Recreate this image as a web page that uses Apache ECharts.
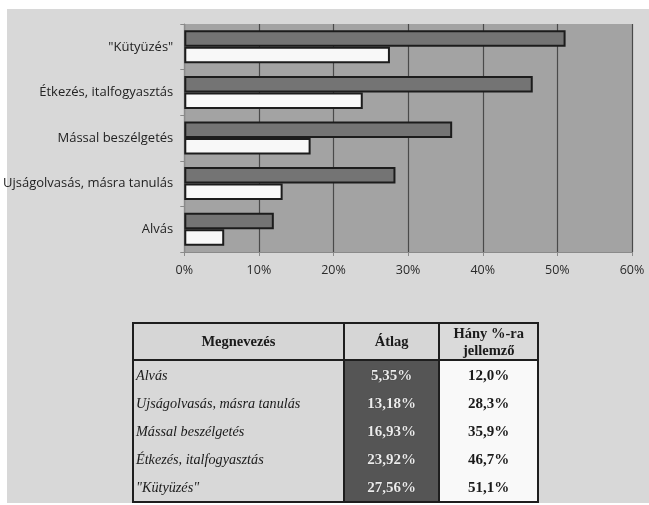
<!DOCTYPE html>
<html>
<head>
<meta charset="utf-8">
<script src="https://cdn.jsdelivr.net/npm/echarts@6/dist/echarts.min.js"></script>
<style>
  html, body { margin: 0; padding: 0; background: #ffffff; }
  #panel { position: absolute; left: 7px; top: 9px; width: 642px; height: 494px; background: #d8d8d8; }
  #chart { position: absolute; left: 0; top: 0; width: 649px; height: 505px; }
  #tbl {
    position: absolute; left: 132px; top: 322px; width: 407px; height: 178px;
    border-collapse: collapse; border: 2px solid #1e1e1e;
    font-family: "Liberation Serif", "DejaVu Serif", serif; font-size: 14px; color: #1a1a1a;
  }
  #tbl th { font-weight: bold; font-size: 14.5px; line-height: 17px; height: 35px; padding: 0; background: #d6d6d6;
    border: 2px solid #1e1e1e; }
  #tbl td { padding: 0; height: 28px; }
  #tbl td.name { font-style: italic; text-align: left; padding-left: 2px; background: #d8d8d8; font-size: 14.2px; }
  #tbl td.avg { background: #555555; color: #ececec; font-weight: bold; text-align: center; font-size: 15px;
    border-left: 2px solid #1e1e1e; border-right: 2px solid #1e1e1e; text-shadow: 0 0 1px #222; }
  #tbl td.pct { background: #f9f9f9; font-weight: bold; text-align: center; font-size: 15px; }
</style>
</head>
<body>
<div id="panel"></div>
<div id="chart"></div>
<table id="tbl"></table>
<script>
// categories, bottom to top as the value axis reads them
var categories = ['Alvás', 'Ujságolvasás, másra tanulás', 'Mással beszélgetés', 'Étkezés, italfogyasztás', '"Kütyüzés"'];
// share of people for whom the activity is typical (dark bars)
var jellemzo = [12.0, 28.3, 35.9, 46.7, 51.1];
// average share (white bars)
var atlag = [5.35, 13.18, 16.93, 23.92, 27.56];
var atlagText = ['5,35%', '13,18%', '16,93%', '23,92%', '27,56%'];
var jellemzoText = ['12,0%', '28,3%', '35,9%', '46,7%', '51,1%'];
var headers = ['Megnevezés', 'Átlag', 'Hány %-ra<br>jellemző'];

var chart = echarts.init(document.getElementById('chart'));

var barBorder = { borderColor: '#1c1c1c', borderWidth: 2 };

chart.setOption({
  animation: false,
  backgroundColor: 'transparent',
  grid: {
    left: 183, right: 17, top: 24, bottom: 253,
    show: true, backgroundColor: '#a3a3a3', borderWidth: 0
  },
  xAxis: {
    type: 'value', min: 0, max: 60, interval: 10,
    axisLine: { show: true, lineStyle: { color: '#8a8a8a', width: 1 } },
    axisTick: { show: true, length: 4, lineStyle: { color: '#8a8a8a' } },
    axisLabel: {
      formatter: '{value}%', margin: 12, color: '#2a2a2a',
      fontFamily: 'Open Sans', fontSize: 12.5
    },
    splitLine: { show: true, lineStyle: { color: '#4a4a4a', width: 1.2 } }
  },
  yAxis: {
    type: 'category', data: categories,
    axisLine: { show: true, lineStyle: { color: '#8a8a8a' } },
    axisTick: { show: true, length: 4, lineStyle: { color: '#8a8a8a' } },
    axisLabel: { margin: 11, color: '#222', fontFamily: 'Open Sans', fontSize: 13 }
  },
  series: [
    {
      name: 'Hány %-ra jellemző', type: 'bar', data: jellemzo,
      barWidth: 16.5, barGap: '0%',
      itemStyle: Object.assign({ color: '#747474' }, barBorder)
    },
    {
      name: 'Átlag', type: 'bar', data: atlag,
      barWidth: 16.5, barGap: '0%',
      itemStyle: Object.assign({ color: '#f8f8f8' }, barBorder)
    }
  ]
});

// table below the chart, built from the same arrays (top row first = Alvás)
var tbl = document.getElementById('tbl');
var html = '<colgroup><col style="width:212px"><col style="width:96px"><col style="width:99px"></colgroup>';
html += '<tr>' + headers.map(function (h, i) {
  return '<th' + (i === 2 ? ' style="background:#dadada"' : '') + '>' + h + '</th>';
}).join('') + '</tr>';
for (var i = 0; i < categories.length; i++) {
  html += '<tr><td class="name">' + categories[i] + '</td>' +
    '<td class="avg">' + atlagText[i] + '</td>' +
    '<td class="pct">' + jellemzoText[i] + '</td></tr>';
}
tbl.innerHTML = html;
</script>
</body>
</html>
